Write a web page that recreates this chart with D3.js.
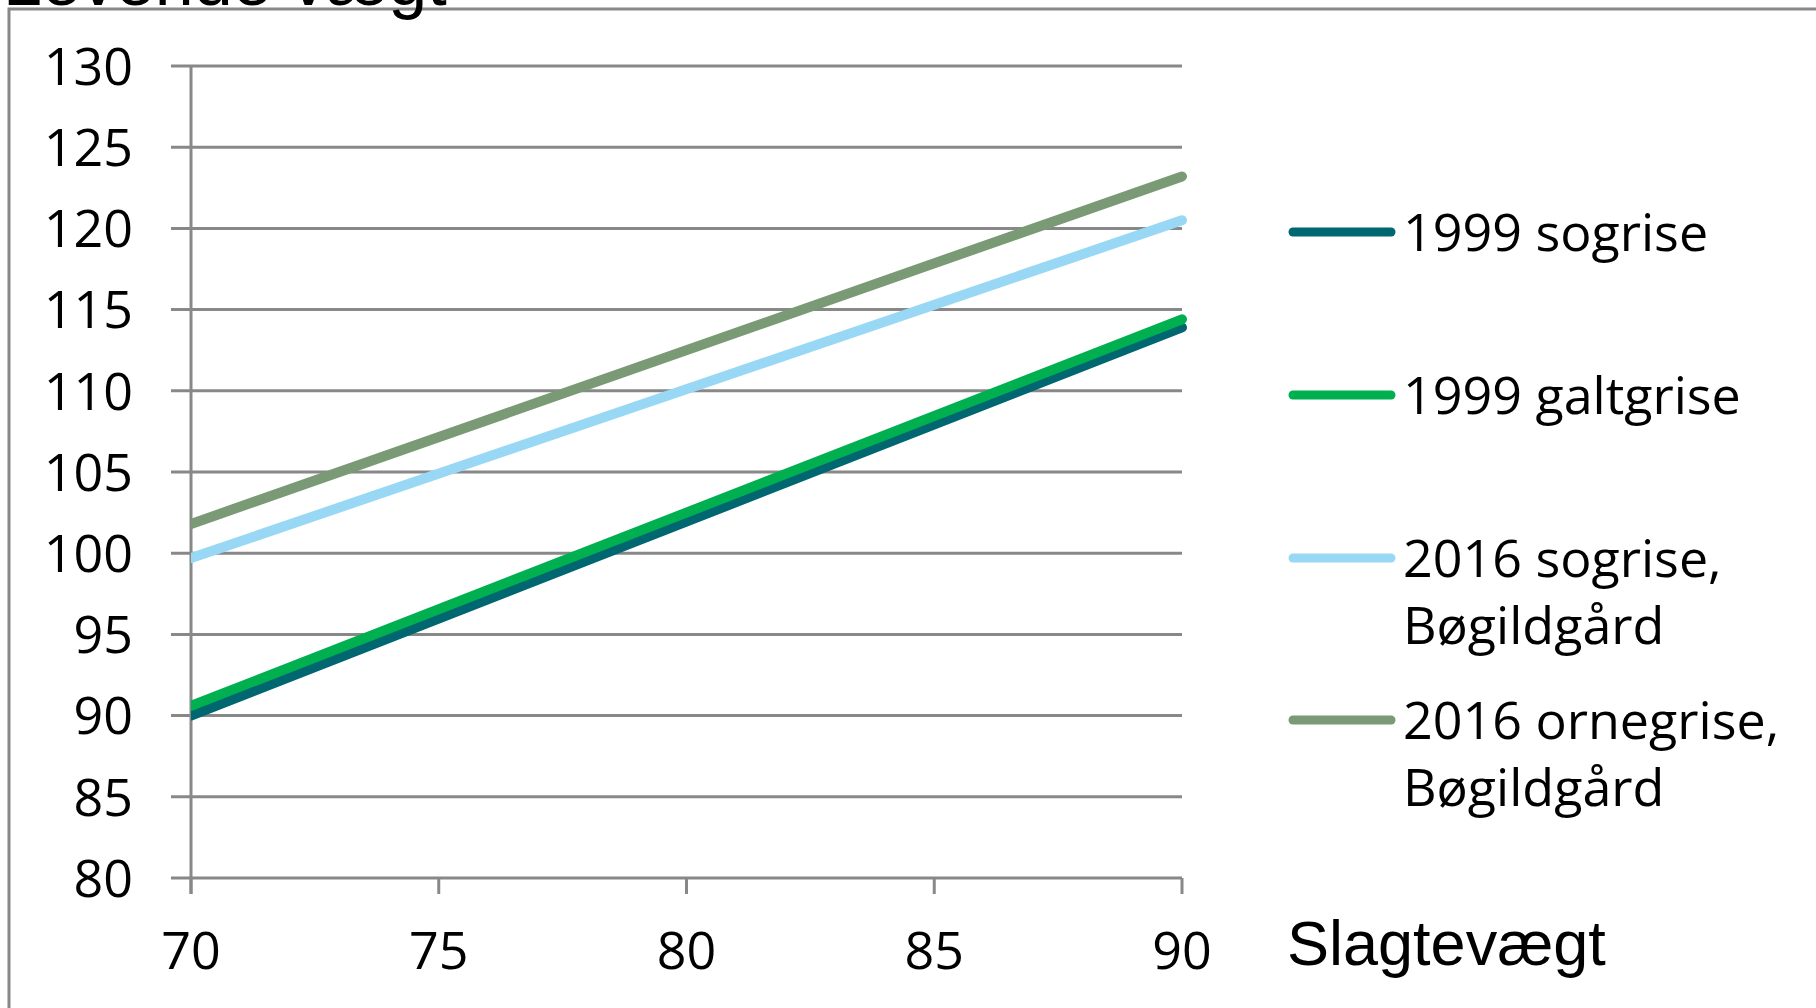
<!DOCTYPE html>
<html>
<head>
<meta charset="utf-8">
<script src="https://cdn.jsdelivr.net/npm/d3@7"></script>
<style>
html,body{margin:0;padding:0;background:#fff;}
svg{display:block;}
</style>
</head>
<body>
<svg id="chart" width="1816" height="1008"></svg>
<script>
// ---- data ----
const xTicks = [70, 75, 80, 85, 90];
const yTicks = [80, 85, 90, 95, 100, 105, 110, 115, 120, 125, 130];
const seriesNames = ["1999 sogrise", "1999 galtgrise", "2016 sogrise,|Bøgildgård", "2016 ornegrise,|Bøgildgård"];
const seriesColors = ["#006670", "#00B050", "#99D8F5", "#7A9A76"];
const xValues = [70, 90];
const sogrise1999 = [90.0, 113.9];
const galtgrise1999 = [90.6, 114.4];
const sogrise2016 = [99.7, 120.5];
const ornegrise2016 = [101.8, 123.2];
const yTitle = "Levende vægt";
const xTitle = "Slagtevægt";

// ---- layout ----
const svg = d3.select("#chart");
const x = d3.scaleLinear().domain([70, 90]).range([191, 1182]);
const y = d3.scaleLinear().domain([80, 130]).range([878, 66]);
const gridColor = "#888888";
const font = "'Open Sans', 'Noto Sans', sans-serif";

// outer frame (partially visible)
svg.append("path")
  .attr("d", "M9,1010 L9,9 L1820,9")
  .attr("fill", "none").attr("stroke", gridColor).attr("stroke-width", 3);

// clipped title
svg.append("text")
  .attr("x", 3).attr("y", 5)
  .attr("font-family", "'Liberation Sans', Arial, sans-serif")
  .attr("font-size", 70)
  .attr("fill", "#000")
  .text(yTitle);

// gridlines
svg.append("g").selectAll("line").data(yTicks).join("line")
  .attr("x1", 171).attr("x2", x(90))
  .attr("y1", d => y(d)).attr("y2", d => y(d))
  .attr("stroke", gridColor).attr("stroke-width", 3);

// y axis line
svg.append("line")
  .attr("x1", x(70)).attr("x2", x(70))
  .attr("y1", y(130)).attr("y2", y(80) + 16)
  .attr("stroke", gridColor).attr("stroke-width", 3);

// x ticks
svg.append("g").selectAll("line").data(xTicks).join("line")
  .attr("x1", d => x(d)).attr("x2", d => x(d))
  .attr("y1", y(80)).attr("y2", y(80) + 16)
  .attr("stroke", gridColor).attr("stroke-width", 3);

// y labels
svg.append("g").selectAll("text").data(yTicks).join("text")
  .attr("x", 133).attr("y", d => y(d))
  .attr("dy", "0.36em")
  .attr("text-anchor", "end")
  .attr("font-family", font).attr("font-size", 52)
  .attr("fill", "#000")
  .text(d => d);

// x labels
svg.append("g").selectAll("text").data(xTicks).join("text")
  .attr("x", d => x(d)).attr("y", 969)
  .attr("text-anchor", "middle")
  .attr("font-family", font).attr("font-size", 52)
  .attr("fill", "#000")
  .text(d => d);

// x title
svg.append("text")
  .attr("x", 1287).attr("y", 965)
  .attr("font-family", "'Liberation Sans', Arial, sans-serif")
  .attr("font-size", 63)
  .attr("fill", "#000")
  .text(xTitle);

// clip
svg.append("clipPath").attr("id", "plotclip")
  .append("rect").attr("x", x(70)).attr("y", 0).attr("width", 1100).attr("height", 1008);

const allSeries = [sogrise1999, galtgrise1999, sogrise2016, ornegrise2016];
const line = d3.line().x((d, i) => x(xValues[i])).y(d => y(d));
svg.append("g").attr("clip-path", "url(#plotclip)")
  .selectAll("path").data(allSeries).join("path")
  .attr("d", d => line(d))
  .attr("fill", "none")
  .attr("stroke", (d, i) => seriesColors[i])
  .attr("stroke-width", 10)
  .attr("stroke-linecap", "round");

// legend
const legendY = [232, 395, 558, 720];
const lg = svg.append("g").selectAll("g").data(seriesNames).join("g")
  .attr("transform", (d, i) => `translate(0,${legendY[i]})`);
lg.append("line")
  .attr("x1", 1293).attr("x2", 1391)
  .attr("stroke", (d, i) => seriesColors[i])
  .attr("stroke-width", 9).attr("stroke-linecap", "round");
lg.each(function(d) {
  const parts = d.split("|");
  const t = d3.select(this).append("text")
    .attr("font-family", font).attr("font-size", 52).attr("fill", "#000");
  parts.forEach((p, j) => {
    t.append("tspan").attr("x", 1403).attr("y", 19 + j * 67).text(p);
  });
});
</script>
</body>
</html>
